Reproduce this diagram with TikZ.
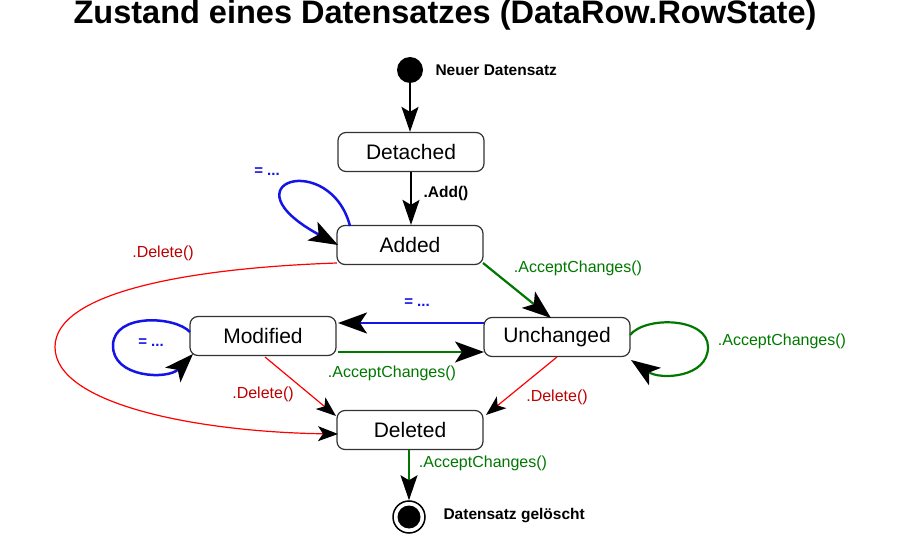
\documentclass[tikz,border=0pt]{standalone}
\usepackage{fontspec}
\setmainfont{Liberation Sans}
\usetikzlibrary{arrows.meta}
\definecolor{dgreen}{RGB}{0,120,0}
\definecolor{dred}{RGB}{190,0,0}
\definecolor{lblue}{RGB}{20,20,230}
\begin{document}
\begin{tikzpicture}[x=1pt,y=-1pt,
  state/.style={draw=black!80,line width=1.2pt,rounded corners=8pt,minimum width=146pt,minimum height=39pt,inner sep=0pt,font=\fontsize{21}{23}\selectfont},
  bigtip/.style={-{Stealth[length=29pt,width=21pt,inset=7pt,black]}},
  blacktip/.style={-{Stealth[length=25pt,width=17pt,inset=5pt,black]}},
  smalltip/.style={-{Stealth[length=20pt,width=15pt,inset=5pt,black]}},
  bl/.style={draw=lblue,line width=2.5pt},
  gr/.style={draw=dgreen,line width=2.2pt},
  rd/.style={draw=red,line width=1.2pt},
  blk/.style={draw=black,line width=2pt},
  lab/.style={font=\fontsize{16}{18}\selectfont},
  blab/.style={font=\bfseries\fontsize{15.5}{18}\selectfont},
]
\useasboundingbox[fill=white] (0,0) rectangle (900,540);
\node[font=\bfseries\fontsize{32.5}{36}\selectfont,anchor=base] (title) at (445,24) {Zustand eines Datensatzes (DataRow.RowState)};

\node[circle,fill=black,minimum size=26pt,inner sep=0pt] (start) at (410,70) {};
\node[blab,anchor=west] (startlab) at (432,70) {Neuer Datensatz};

\node[state] (det) at (411,152) {Detached};
\node[state] (add) at (410,245) {Added};
\node[state] (unc) at (557,337) {Unchanged};
\node[state] (mod) at (263,336) {Modified};
\node[state] (del) at (410,430) {Deleted};

\node[circle,draw=black,line width=1.5pt,minimum size=32pt,inner sep=0pt] (end) at (409,517) {};
\node[circle,fill=black,minimum size=23pt,inner sep=0pt] (endin) at (409,517) {};
\node[blab,anchor=west] (endlab) at (440,516) {Datensatz gelöscht};

% start -> detached
\draw[blk,blacktip] (start) -- (det.north -| start);
% detached -> added
\coordinate (d1) at (det.south);
\draw[blk,blacktip] (d1) -- (d1 |- add.north);
\node[blab] (addl) at (446,193) {.Add()};

% blue loop on added
\coordinate (a1) at (350,226);
\coordinate (a2) at (338,245);
\draw[bl,bigtip] (a1) .. controls (330,150) and (222,182) .. (a2);
\node[font=\bfseries\fontsize{15}{16}\selectfont,text=lblue] (al) at (267,172) {= ...};

% red big curve added -> deleted
\coordinate (r1) at (337,263);
\coordinate (r2) at (55,347);
\coordinate (r3) at (338,434);
\draw[rd,smalltip] (r1) .. controls (190,268) and (55,292) .. (r2) .. controls (55,405) and (200,432) .. (r3);
\node[lab,text=dred] (rl) at (163,253) {.Delete()};

% added -> unchanged
\coordinate (g1) at (483,263);
\coordinate (g2) at (551,318);
\draw[gr,bigtip] (g1) -- (g2);
\node[lab,text=dgreen] (gl) at (578,268) {.AcceptChanges()};

% unchanged -> modified (blue)
\coordinate (u1) at (484,323);
\coordinate (m1) at (338,323);
\draw[bl,bigtip] (u1) -- (m1);
\node[font=\bfseries\fontsize{15}{16}\selectfont,text=lblue] (ul) at (417,303) {= ...};

% modified -> unchanged (green)
\coordinate (m2) at (338,352);
\coordinate (u2) at (484,352);
\draw[gr,bigtip] (m2) -- (u2);
\node[lab,text=dgreen] (ml) at (392,373) {.AcceptChanges()};

% blue loop on modified
\coordinate (b1) at (190,332);
\coordinate (b2) at (113,345);
\coordinate (b3) at (193,354);
\draw[bl,bigtip] (b1) .. controls (175,316) and (114,313) .. (b2) .. controls (112,378) and (168,380) .. (b3);
\node[font=\bfseries\fontsize{15}{16}\selectfont,text=lblue] (bll) at (151,343) {= ...};

% green loop on unchanged
\coordinate (c1) at (630,335);
\coordinate (c2) at (708,347);
\coordinate (c3) at (631,360);
\draw[gr,bigtip] (c1) .. controls (645,316) and (708,317) .. (c2) .. controls (708,378) and (660,380) .. (c3);
\node[lab,text=dgreen] (cl) at (782,341) {.AcceptChanges()};

% modified -> deleted
\coordinate (md1) at (265,357);
\coordinate (md2) at (336,416);
\draw[rd,smalltip] (md1) -- (md2);
\node[lab,text=dred] (mdl) at (263,394) {.Delete()};

% unchanged -> deleted
\coordinate (ud1) at (557,357);
\coordinate (ud2) at (486,415);
\draw[rd,smalltip] (ud1) -- (ud2);
\node[lab,text=dred] (udl) at (557,397) {.Delete()};

% deleted -> end
\coordinate (e1) at (409,450);
\draw[gr,line width=1.8pt,blacktip] (e1) -- (end.north);
\node[lab,text=dgreen] (el) at (483,463) {.AcceptChanges()};
\end{tikzpicture}
\end{document}
